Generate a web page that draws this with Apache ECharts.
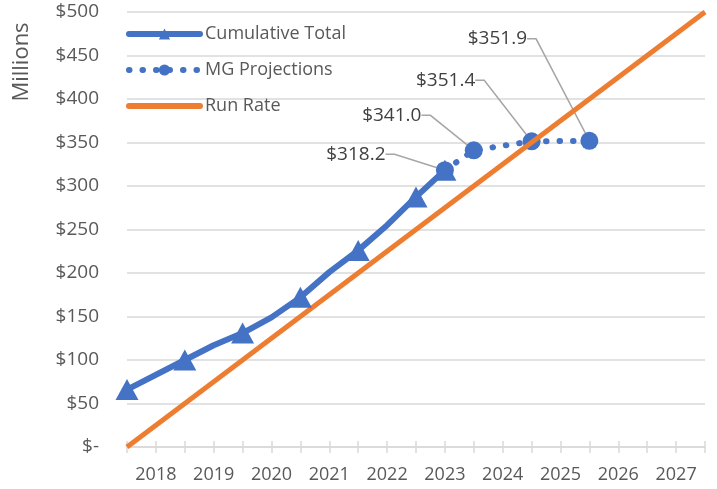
<!DOCTYPE html>
<html>
<head>
<meta charset="utf-8">
<script src="https://cdn.jsdelivr.net/npm/echarts@6/dist/echarts.min.js"></script>
<style>
    html, body { margin: 0; padding: 0; background: #fff; }
    #chart { width: 717px; height: 489px; }
</style>
</head>
<body>
<div id="chart"></div>
<script>
// cumulative total (actuals), $ millions
var cumYears = [2017.5, 2018.5, 2019, 2019.5, 2020, 2020.5, 2021, 2021.5, 2022, 2022.5, 2023];
var cumValues = [66, 100, 117, 131, 149, 172, 201, 226, 255, 287.5, 318.2];

// MG projections
var mgYears = [2023, 2023.5, 2024.5, 2025.5];
var mgValues = [318.2, 341.0, 351.4, 351.9];

// run rate line
var runYears = [2017.5, 2027.5];
var runValues = [0, 500];

var seriesNames = ['Cumulative Total', 'MG Projections', 'Run Rate'];

function pairs(xs, ys) {
    return xs.map(function (x, i) { return [x, ys[i]]; });
}

// where the data labels sit, relative to their point
var labelShift = [[-89, -16], [-82, -35], [-86, -61], [-92, -102]];

var dom = document.getElementById('chart');
var myChart = echarts.init(dom);
var gray = '#595959';
var gridGray = '#d9d9d9';
var font = '"Open Sans", "Noto Sans", sans-serif';

var option = {
    animation: false,
    grid: { left: 127, right: 12, top: 12, bottom: 42 },
    graphic: [{
        type: 'text',
        x: 22,
        y: 62,
        rotation: Math.PI / 2,
        style: {
            text: 'Millions',
            fill: gray,
            font: '22px ' + font,
            textAlign: 'center',
            textVerticalAlign: 'middle'
        }
    }],
    legend: {
        orient: 'vertical',
        left: 126,
        top: 25,
        padding: 0,
        itemWidth: 71,
        itemHeight: 14,
        itemGap: 18,
        lineStyle: { width: 6, cap: 'round' },
        data: [
            seriesNames[0],
            seriesNames[1],
            { name: seriesNames[2], itemStyle: { opacity: 0 } }
        ],
        textStyle: { color: gray, fontSize: 18, fontFamily: font }
    },
    xAxis: [{
        type: 'value',
        min: 2017.5,
        max: 2027.5,
        interval: 0.5,
        axisLine: { lineStyle: { color: gridGray, width: 1.5 } },
        axisTick: { show: true, length: 6, lineStyle: { color: gridGray, width: 1.5 } },
        splitLine: { show: false },
        axisLabel: {
            margin: 19,
            color: gray,
            fontSize: 18,
            fontFamily: font,
            formatter: function (v) { return v % 1 === 0 ? String(v) : ''; }
        }
    }, {
        type: 'value',
        position: 'bottom',
        min: 2017.5,
        max: 2027.5,
        interval: 0.5,
        axisLine: { show: false },
        axisTick: { show: true, inside: true, length: 6, lineStyle: { color: gridGray, width: 1.5 } },
        axisLabel: { show: false },
        splitLine: { show: false }
    }],
    yAxis: {
        type: 'value',
        min: 0,
        max: 500,
        interval: 50,
        axisLine: { show: false },
        axisTick: { show: false },
        splitLine: { lineStyle: { color: gridGray, width: 1.5 } },
        axisLabel: {
            margin: 28,
            color: gray,
            fontSize: 19,
            fontFamily: font,
            formatter: function (v) { return v === 0 ? '$-' : '$' + v; }
        }
    },
    series: [
        {
            name: 'MG Projections',
            type: 'line',
            z: 2,
            data: pairs(mgYears, mgValues),
            symbol: 'circle',
            symbolSize: 18,
            itemStyle: { color: '#4472C4' },
            lineStyle: { color: '#4472C4', width: 6, type: [0.5, 13], cap: 'round' },
            label: {
                show: true,
                position: 'inside',
                color: '#404040',
                fontSize: 19,
                fontFamily: font,
                padding: [0, 10, 0, 10],
                formatter: function (p) { return '$' + p.value[1].toFixed(1); }
            },
            labelLine: {
                show: true,
                length2: 9,
                minTurnAngle: 0,
                lineStyle: { color: '#a6a6a6', width: 1.5 }
            },
            labelLayout: function (p) {
                var s = labelShift[p.dataIndex];
                return { dx: s[0], dy: s[1] };
            }
        },
        {
            name: 'Run Rate',
            type: 'line',
            z: 3,
            data: pairs(runYears, runValues),
            showSymbol: false,
            symbol: 'none',
            itemStyle: { color: '#ED7D31' },
            lineStyle: { color: '#ED7D31', width: 5 }
        },
        {
            name: 'Cumulative Total',
            type: 'line',
            z: 4,
            data: pairs(cumYears, cumValues),
            symbol: 'triangle',
            symbolSize: function (v, p) {
                // markers only on the half-year points and the last actual
                return (v[0] % 1 !== 0 || p.dataIndex === cumYears.length - 1) ? [23, 21] : 0;
            },
            itemStyle: { color: '#4472C4' },
            lineStyle: { color: '#4472C4', width: 6 }
        }
    ]
};

if (option && typeof option === 'object') {
    myChart.setOption(option);
    window.addEventListener('resize', function () {
        myChart.resize();
    });
}
</script>
</body>
</html>
